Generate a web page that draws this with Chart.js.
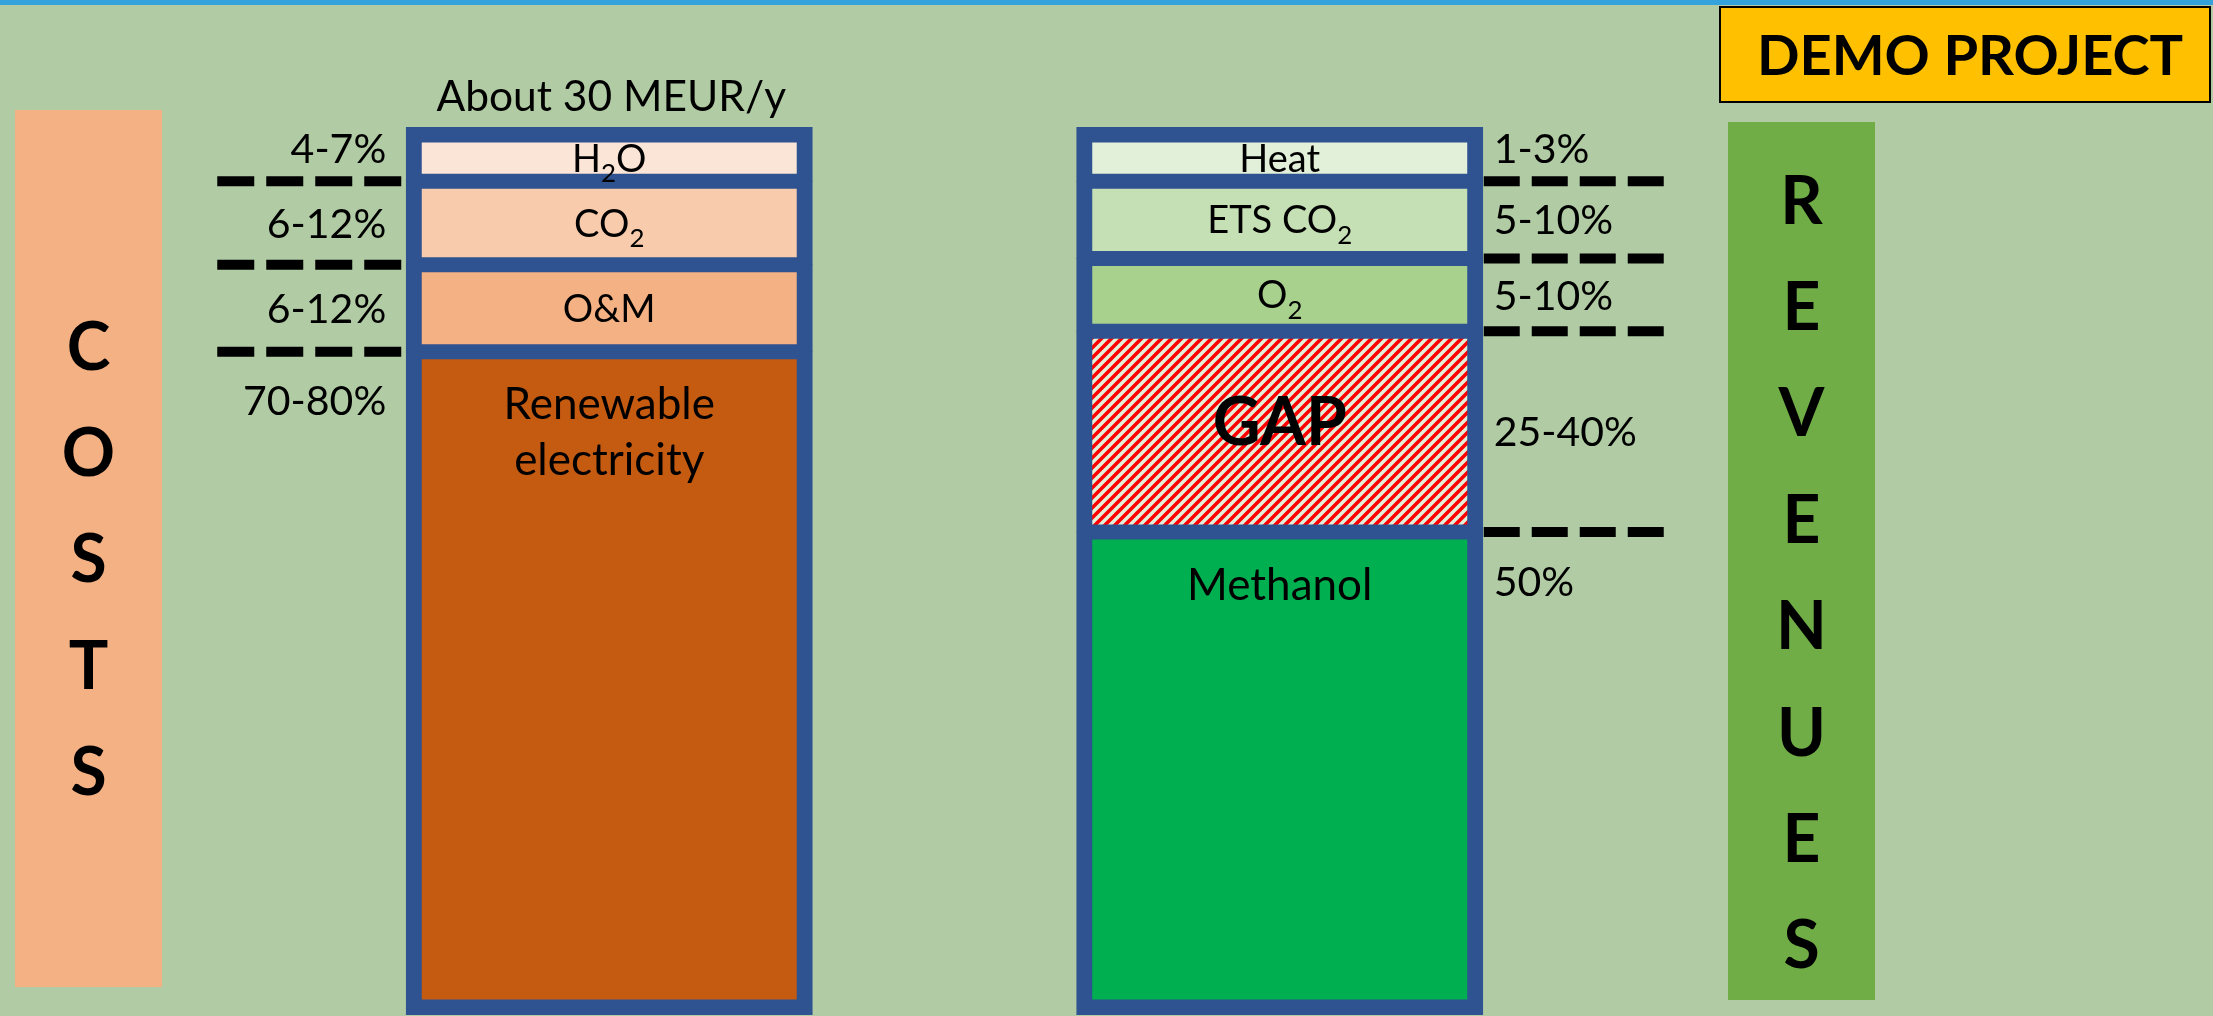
<!DOCTYPE html>
<html>
<head>
<meta charset="utf-8">
<title>Demo project - costs and revenues</title>
<script src="https://cdn.jsdelivr.net/npm/chart.js@4.4.1/dist/chart.umd.min.js"></script>
<style>
  html, body { margin: 0; padding: 0; background: #b1cca4; overflow: hidden; }
  canvas { display: block; }
</style>
</head>
<body>
<canvas id="demoChart" width="2213" height="1016"></canvas>
<script>
const bars = ['Costs', 'Revenues'];

// segments are listed bottom to top, shares are % of the bar height
const costItems = ['Renewable electricity', 'O&M', 'CO₂', 'H₂O'];
const costShares = [74.7, 9.8, 9.4, 6.1];
const costRanges = ['70-80%', '6-12%', '6-12%', '4-7%'];

const revenueItems = ['Methanol', 'GAP', 'O₂', 'ETS CO₂', 'Heat'];
const revenueShares = [54.4, 22.6, 8.2, 8.7, 6.1];
const revenueRanges = ['50%', '25-40%', '5-10%', '5-10%', '1-3%'];

const totalLabel = 'About 30 MEUR/y';
const sideTitles = ['COSTS', 'REVENUES'];
const badgeText = 'DEMO PROJECT';

// styles
const costColors = ['#c55a11', '#f4b183', '#f8cbad', '#fbe5d6'];
const revenueColors = ['#00b050', 'hatch', '#a9d18e', '#c5e0b4', '#e2f0d9'];
const frameBlue = '#2f5290';
const FONT = 'Lato, "Open Sans", sans-serif';

function hatchPattern() {
    const c = document.createElement('canvas');
    c.width = 10; c.height = 10;
    const g = c.getContext('2d');
    g.fillStyle = '#e2f0d9';
    g.fillRect(0, 0, 10, 10);
    g.strokeStyle = '#ff0000';
    g.lineWidth = 3.6;
    g.beginPath();
    g.moveTo(-2, 12); g.lineTo(12, -2);
    g.moveTo(-7, 7); g.lineTo(7, -7);
    g.moveTo(3, 17); g.lineTo(17, 3);
    g.stroke();
    return g.createPattern(c, 'repeat');
}

// draws text, with ₂ as a real subscript; y is the middle of the capitals
function drawRich(ctx, str, x, capY, size, weight, align) {
    const font = s => `${weight} ${s}px ${FONT}`;
    const runs = [];
    for (const ch of str) {
        const sub = ch === '₂';
        const t = sub ? '2' : ch;
        const last = runs[runs.length - 1];
        if (last && last.sub === sub) last.t += t;
        else runs.push({ t: t, sub: sub });
    }
    let w = 0;
    runs.forEach(r => {
        ctx.font = font(r.sub ? size * 0.68 : size);
        r.w = ctx.measureText(r.t).width;
        w += r.w;
    });
    let cx = align === 'center' ? x - w / 2 : align === 'right' ? x - w : x;
    const base = capY + size * 0.358;
    ctx.textAlign = 'left';
    ctx.textBaseline = 'alphabetic';
    ctx.fillStyle = '#000';
    runs.forEach(r => {
        ctx.font = font(r.sub ? size * 0.68 : size);
        ctx.fillText(r.t, cx, r.sub ? base + size * 0.28 : base);
        cx += r.w;
    });
}

function drawSideBox(ctx, title, x, y, w, h, color, firstY) {
    ctx.fillStyle = color;
    ctx.fillRect(x, y, w, h);
    [...title].forEach((ch, i) => {
        drawRich(ctx, ch, x + w / 2, firstY + i * 106.4, 66, 'bold', 'center');
    });
}

function makeSets(items, shares, colors, ranges, side, pattern) {
    return items.map((name, k) => ({
        label: name,
        data: bars.map((b, j) => j === side ? shares[k] : null),
        range: ranges[k],
        side: side,
        level: k,
        levels: items.length,
        backgroundColor: colors[k] === 'hatch' ? pattern : colors[k],
        borderColor: frameBlue,
        borderWidth: {
            left: 16, right: 16,
            bottom: k === 0 ? 16 : 8,
            top: k === items.length - 1 ? 16 : 8
        },
        borderSkipped: false,
        inflateAmount: 0.5
    }));
}

const decorPlugin = {
    id: 'decor',
    beforeDraw(chart) {
        const ctx = chart.ctx;
        ctx.save();
        ctx.fillStyle = '#b1cca4';
        ctx.fillRect(0, 0, chart.width, chart.height);
        ctx.fillStyle = '#34a3db';
        ctx.fillRect(0, 0, chart.width, 5);

        drawSideBox(ctx, sideTitles[0], 15, 110, 147, 877, '#f4b183', 346);
        drawSideBox(ctx, sideTitles[1], 1728, 122, 147, 878, '#70ad47', 200);

        ctx.fillStyle = '#ffc000';
        ctx.fillRect(1719, 6, 492, 97);
        ctx.strokeStyle = '#000';
        ctx.lineWidth = 2;
        ctx.strokeRect(1720, 7, 490, 95);
        drawRich(ctx, badgeText, 1970, 55, 56, 'bold', 'center');
        ctx.restore();
    },
    afterDatasetsDraw(chart) {
        const ctx = chart.ctx;
        ctx.save();
        chart.data.datasets.forEach((ds, i) => {
            const el = chart.getDatasetMeta(i).data[ds.side];
            if (!el) return;
            const p = el.getProps(['x', 'y', 'base', 'width'], true);
            const bw = ds.borderWidth;
            const innerTop = p.y + bw.top;
            const innerBot = p.base - bw.bottom;
            const tall = innerBot - innerTop > 300;
            const isTop = ds.level === ds.levels - 1;
            const left = p.x - p.width / 2;
            const right = p.x + p.width / 2;

            // name inside the segment
            const isGap = ds.label === 'GAP';
            const size = isGap ? 66 : (tall ? 44 : 38);
            const weight = isGap ? 'bold' : 'normal';
            ctx.font = `${weight} ${size}px ${FONT}`;
            let lines = [ds.label];
            if (ctx.measureText(ds.label).width > (right - left) * 0.8) lines = ds.label.split(' ');
            const y0 = tall ? innerTop + 44 : (innerTop + innerBot) / 2 - (isGap ? 10 : 0) - (lines.length - 1) * 28;
            lines.forEach((ln, n) => drawRich(ctx, ln, p.x, y0 + n * 56, size, weight, 'center'));

            // range label beside the bar
            const ry = tall ? innerTop + 41 : (innerTop + innerBot) / 2 - (isTop ? 10 : 0);
            if (ds.side === 0) drawRich(ctx, ds.range, left - 20, ry, 41, 'normal', 'right');
            else drawRich(ctx, ds.range, right + 11, ry, 41, 'normal', 'left');

            // dashed separator at the lower edge of every segment but the first
            if (ds.level > 0) {
                ctx.strokeStyle = '#000';
                ctx.lineWidth = 10;
                ctx.beginPath();
                if (ds.side === 0) {
                    ctx.setLineDash([37, 12]);
                    ctx.moveTo(left - 189, p.base);
                    ctx.lineTo(left - 5, p.base);
                } else {
                    ctx.setLineDash([36, 12]);
                    ctx.moveTo(right + 1, p.base);
                    ctx.lineTo(right + 181, p.base);
                }
                ctx.stroke();
                ctx.setLineDash([]);
            }

            if (ds.side === 0 && isTop) {
                drawRich(ctx, totalLabel, p.x + 2, p.y - 31, 42.5, 'normal', 'center');
            }
        });
        ctx.restore();
    }
};

function drawChart() {
    const pattern = hatchPattern();
    const datasets = makeSets(costItems, costShares, costColors, costRanges, 0, pattern)
        .concat(makeSets(revenueItems, revenueShares, revenueColors, revenueRanges, 1, pattern));

    new Chart(document.getElementById('demoChart').getContext('2d'), {
        type: 'bar',
        data: { labels: bars, datasets: datasets },
        options: {
            responsive: false,
            animation: false,
            events: [],
            layout: { padding: { left: 274, right: 598, top: 127, bottom: 1 } },
            datasets: { bar: { categoryPercentage: 1, barPercentage: 0.6055 } },
            scales: {
                x: { display: false, stacked: true },
                y: { display: false, stacked: true, min: 0, max: 100 }
            },
            plugins: {
                legend: { display: false },
                tooltip: { enabled: false }
            }
        },
        plugins: [decorPlugin]
    });
}

document.fonts.load('40px Lato').then(drawChart, drawChart);
</script>
</body>
</html>
